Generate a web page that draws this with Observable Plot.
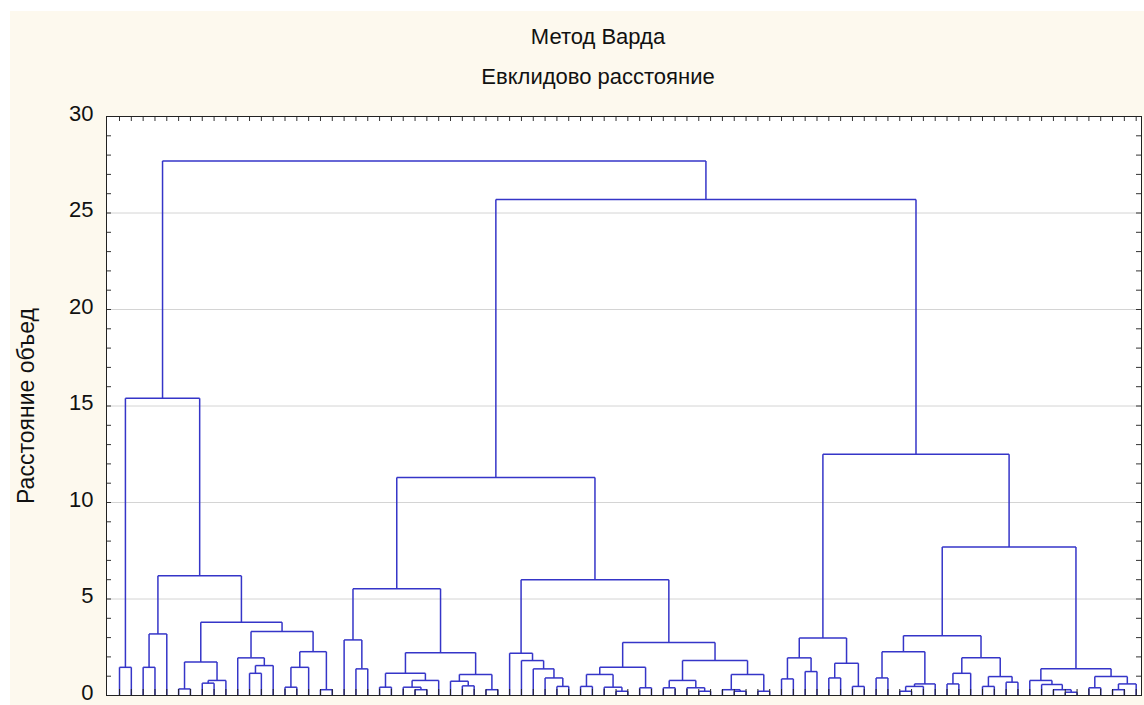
<!DOCTYPE html>
<html><head><meta charset="utf-8">
<script src="https://cdn.jsdelivr.net/npm/d3@7"></script>
<script src="https://cdn.jsdelivr.net/npm/@observablehq/plot@0.6"></script>
<style>
body{margin:0;background:#fff;font-family:"Liberation Sans",Arial,sans-serif;}
#panel{position:absolute;left:10px;top:11px;width:1134px;height:694px;background:#fdf9ee;}
.t{position:absolute;left:0;width:1196px;text-align:center;font-size:22px;line-height:26px;color:#111;}
#chart{position:absolute;left:0;top:100px;}
</style></head><body>
<div id="panel"></div>
<div class="t" style="top:24px">Метод Варда</div>
<div class="t" style="top:64px">Евклидово расстояние</div>
<div id="chart"></div>
<script>
// y-axis tick labels
const yTicks = [0, 5, 10, 15, 20, 25, 30];
const yGrid = [5, 10, 15, 20, 25];
const yLabel = "Расстояние объед";
// Dendrogram: node = [linkage distance, left, right]; leaf = 0 (leaves ordered left to right)
const clusterA = [15.4,
  [1.46, 0, 0],
  [6.2,
    [3.19, [1.46, 0, 0], 0],
    [3.79,
      [1.74, [0.34, 0, 0], [0.78, [0.64, 0, 0], 0]],
      [3.32,
        [1.95, 0, [1.55, [1.15, 0, 0], 0]],
        [2.27, [1.46, [0.43, 0, 0], 0], [0.3, 0, 0]]
      ]
    ]
  ]
];
const clusterB = [11.3,
  [5.53,
    [2.88, 0, [1.38, 0, 0]],
    [2.22,
      [1.15, [0.43, 0, 0], [0.78, [0.43, 0, [0.3, 0, 0]], 0]],
      [1.09, [0.74, 0, [0.5, 0, 0]], [0.3, 0, 0]]
    ]
  ],
  [6.0,
    [2.19, 0, [1.81, 0, [1.38, 0, [0.91, 0, [0.47, 0, 0]]]]],
    [2.75,
      [1.46,
        [1.09, [0.47, 0, 0], [0.43, 0, [0.22, 0, 0]]],
        [0.4, 0, 0]
      ],
      [1.81,
        [0.78, [0.4, 0, 0], [0.4, 0, [0.22, 0, 0]]],
        [1.09, [0.3, 0, [0.22, 0, 0]], [0.22, 0, 0]]
      ]
    ]
  ]
];
const clusterC = [12.5,
  [2.98,
    [1.95, [0.86, 0, 0], [1.24, 0, 0]],
    [1.67, [0.91, 0, 0], [0.47, 0, 0]]
  ],
  [7.7,
    [3.1,
      [2.27, [0.91, 0, 0], [0.6, [0.47, [0.22, 0, 0], 0], 0]],
      [1.95, [1.15, [0.6, 0, 0], 0], [0.98, [0.47, 0, 0], [0.69, 0, 0]]]
    ],
    [1.38,
      [0.78, 0, [0.57, 0, [0.3, 0, [0.17, 0, 0]]]],
      [0.98, [0.4, 0, 0], [0.6, [0.3, 0, 0], 0]]
    ]
  ]
];
const heightBC = 25.7;
const heightRoot = 27.7;

const tree = [heightRoot, clusterA, [heightBC, clusterB, clusterC]];
const segs = [];
const leaves = [];
let n = 0;
function layout(node) {
  if (!Array.isArray(node)) { n += 1; leaves.push(n); return {x: n, h: 0}; }
  const [h, l, r] = node;
  const a = layout(l), b = layout(r);
  segs.push({x1: a.x, y1: a.h, x2: a.x, y2: h});
  segs.push({x1: b.x, y1: b.h, x2: b.x, y2: h});
  segs.push({x1: a.x, y1: h, x2: b.x, y2: h});
  return {x: (a.x + b.x) / 2, h};
}
layout(tree);

const W = 1144, H = 605, mL = 106, mR = 3, mT = 16, mB = 10;
const innerW = W - mL - mR, innerH = H - mT - mB;
const minor = d3.range(0, 31);

const chart = Plot.plot({
  width: W, height: H,
  marginLeft: mL, marginRight: mR, marginTop: mT, marginBottom: mB,
  style: {background: "transparent", fontFamily: "'Liberation Sans', Arial, sans-serif", fontSize: "22px", color: "#111", overflow: "visible"},
  x: {domain: [-0.1, n + 0.45], axis: null},
  y: {domain: [0, 30], axis: null},
  marks: [
    Plot.frame({fill: "white", stroke: "none"}),
    Plot.gridY(yGrid, {stroke: "#d4d4d4", strokeOpacity: 1}),
    Plot.link(segs, {x1: "x1", y1: "y1", x2: "x2", y2: "y2", stroke: "#3535c8", strokeWidth: 1.5}),
    Plot.tickY(minor, {y: d => d, insetRight: innerW - 5, stroke: "#333"}),
    Plot.tickY(minor, {y: d => d, insetLeft: innerW - 5, stroke: "#333"}),
    Plot.tickX(leaves, {x: d => d, insetBottom: innerH - 5, stroke: "#333"}),
    Plot.tickX(leaves, {x: d => d, insetTop: innerH - 6, stroke: "#222"}),
    Plot.axisY(yTicks, {tickSize: 0, tickPadding: 13, fontSize: 22, dy: -3, label: null}),
    Plot.axisY({tickSize: 0, ticks: [], label: yLabel, labelArrow: "none", labelAnchor: "center", labelOffset: 89, fontSize: 23}),
    Plot.frame({stroke: "#222"})
  ]
});
document.getElementById("chart").appendChild(chart);
</script>
</body></html>
